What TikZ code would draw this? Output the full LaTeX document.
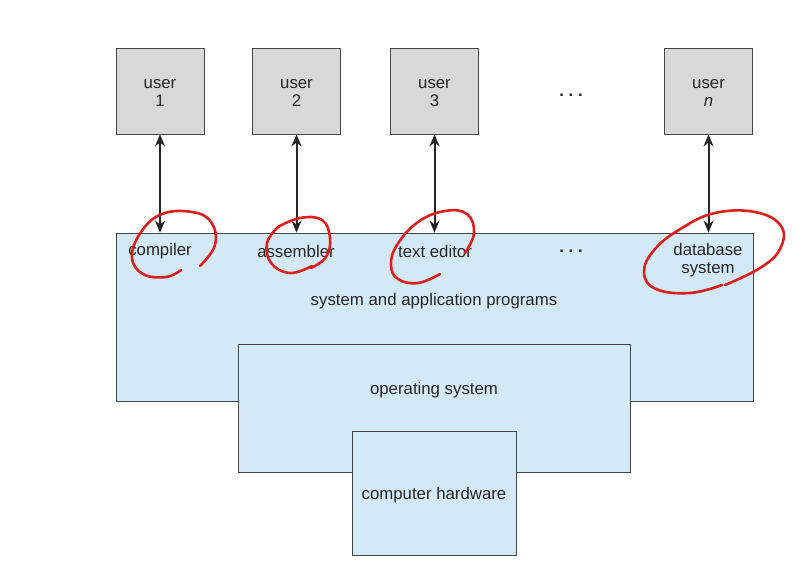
\documentclass[tikz,border=0pt]{standalone}
\usepackage{fontspec}
\setmainfont{Liberation Sans}
\usetikzlibrary{arrows.meta,positioning}
\definecolor{layerBlue}{RGB}{212,233,247}
\definecolor{userGray}{RGB}{216,216,216}
\definecolor{edgeGray}{RGB}{70,70,70}
\definecolor{penRed}{RGB}{222,32,28}

\begin{document}
\begin{tikzpicture}[x=0.5pt,y=-0.5pt,
    every node/.style={font=\fontsize{8.4}{9.2}\selectfont, text=black!85},
    user/.style={draw=edgeGray, fill=userGray, minimum width=44pt, minimum height=43pt, inner sep=0pt, align=center},
    layer/.style={draw=edgeGray, fill=layerBlue, inner sep=0pt},
    link/.style={{Stealth[length=6pt,width=5pt]}-{Stealth[length=6pt,width=5pt]}, line width=1pt, black!85},
    pen/.style={penRed, line width=1.3pt, line cap=round, line join=round}]
    \useasboundingbox (0,0) rectangle (812,572);
    % Layers
    \node[layer, minimum width=318.5pt, minimum height=84pt] (apps) at (434.5,317) {};
    \node[layer, minimum width=196pt, minimum height=64pt] (os) at (434,408) {};
    \node[layer, minimum width=82pt, minimum height=62pt] (hw) at (434,493) {};
    \node (hwlabel) at (434,495) {computer hardware};
    \node (appslabel) at (434,301) {system and application programs};
    \node (oslabel) at (434,390) {operating system};
    % Programs
    \node (compiler) at (160,251) {compiler};
    \node (assembler) at (296,251) {assembler};
    \node (editor) at (435,251) {text editor};
    \node (progdots) at (571,251) {\textbf{.\ .\ .}};
    \node[align=center] (dbms) at (708,260) {database\\system};
    % Users
    \node[user] (u1) at (160,91) {};
    \node[user] (u2) at (296.5,91) {};
    \node[user] (u3) at (434.5,91) {};
    \node[user] (un) at (708.5,91) {};
    \node[align=center] (u1text) at (160,93) {user\\1};
    \node[align=center] (u2text) at (296.5,93) {user\\2};
    \node[align=center] (u3text) at (434.5,93) {user\\3};
    \node[align=center] (untext) at (708.5,93) {user\\\textit{n}};
    \node (userdots) at (571,95) {\textbf{.\ .\ .}};
    % Links
    \draw[link] (u1) -- (u1 |- apps.north);
    \draw[link] (u2) -- (u2 |- apps.north);
    \draw[link] (u3) -- (u3 |- apps.north);
    \draw[link] (un) -- (un |- apps.north);
    % Hand marks
    \draw[pen] plot[smooth, tension=0.7] coordinates {(200,266) (215,245) (211,222) (192,212) (162,214) (141,232) (132,257) (143,274) (166,277) (181,270)};
    \draw[pen] plot[smooth, tension=0.7] coordinates {(278,227) (300,218) (322,220) (330,238) (326,257) (311,268)};
    \draw[pen] plot[smooth, tension=0.7] coordinates {(312,266) (290,273) (271,263) (267,243) (278,227)};
    \draw[pen] plot[smooth, tension=0.7] coordinates {(465,253) (474,233) (467,214) (445,211) (418,222) (397,245) (391,265) (398,279) (418,283) (440,274)};
    \draw[pen] plot[smooth, tension=0.7] coordinates {(722,285) (690,293) (656,289) (644,272) (655,249) (682,228) (715,213) (755,212) (781,226) (780,249) (760,268) (725,285)};
\end{tikzpicture}
\end{document}
